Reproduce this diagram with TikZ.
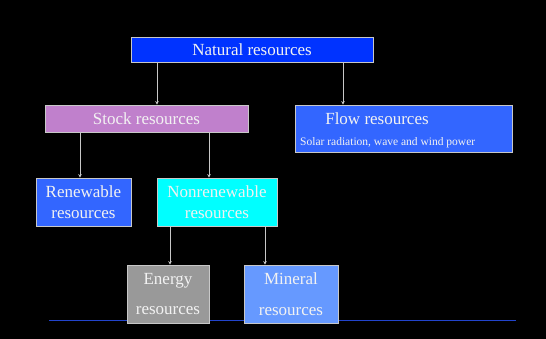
\documentclass[tikz,border=0pt]{standalone}
\usepackage{fontspec}
\setmainfont{Liberation Serif}
\usetikzlibrary{arrows.meta}
\definecolor{natblue}{HTML}{0033FF}
\definecolor{stockpink}{HTML}{C080CC}
\definecolor{flowblue}{HTML}{3366FF}
\definecolor{nonrencyan}{HTML}{00FFFF}
\definecolor{energygray}{HTML}{999999}
\definecolor{mineralblue}{HTML}{6699FF}
\definecolor{linegray}{HTML}{C8C8C8}
\definecolor{baseblue}{HTML}{2244CC}
\definecolor{txt}{HTML}{F2F2F2}
\tikzset{
  box/.style={draw=linegray, line width=0.8pt, inner sep=0pt, text=txt,
    font=\fontsize{17}{20.5}\selectfont, align=center},
  conn/.style={draw=linegray, line width=0.7pt, -{Stealth[length=3.5pt,width=3.5pt]}},
}
\begin{document}
\begin{tikzpicture}[x=1pt,y=-1pt]
\fill[black] (0,0) rectangle (546,339);
\useasboundingbox (0,0) rectangle (546,339);
% baseline
\draw[baseblue, line width=1.2pt] (49,320.5) -- (516,320.5);
% boxes
\node[box, fill=natblue, minimum width=242pt, minimum height=25pt] (nat) at (252,49.5) {Natural resources};
\node[box, fill=stockpink, minimum width=203pt, minimum height=27pt] (stock) at (146.5,118.5) {Stock resources};
\node[box, fill=flowblue, minimum width=217pt, minimum height=47pt] (flow) at (403.5,128.5) {};
\node[text=txt, font=\fontsize{17}{20}\selectfont, inner sep=0pt] (flowt) at (377,119) {Flow resources};
\node[text=txt, font=\fontsize{11.5}{13}\selectfont, inner sep=0pt, anchor=west] (flows) at (300,143) {Solar radiation, wave and wind power};
\node[box, fill=flowblue, minimum width=95pt, minimum height=48pt] (ren) at (83.5,202) {Renewable\\resources};
\node[box, fill=nonrencyan, minimum width=120pt, minimum height=48pt] (non) at (217,202) {Nonrenewable\\resources};
\node[box, fill=energygray, minimum width=82pt, minimum height=58pt] (en) at (168,294) {Energy\\[10pt]resources};
\node[box, fill=mineralblue, minimum width=94pt, minimum height=58pt] (min) at (291,294) {Mineral\\[10pt]resources};
% connectors
\draw[conn] ([xshift=-95pt]nat.south) -- ([xshift=-95pt]nat.south |- stock.north);
\draw[conn] ([xshift=91pt]nat.south) -- ([xshift=91pt]nat.south |- flow.north);
\draw[conn] ([xshift=-66.5pt]stock.south) -- ([xshift=-66.5pt]stock.south |- ren.north);
\draw[conn] ([xshift=62.5pt]stock.south) -- ([xshift=62.5pt]stock.south |- non.north);
\draw[conn] ([xshift=-47pt]non.south) -- ([xshift=-47pt]non.south |- en.north);
\draw[conn] ([xshift=48pt]non.south) -- ([xshift=48pt]non.south |- min.north);
\end{tikzpicture}
\end{document}
